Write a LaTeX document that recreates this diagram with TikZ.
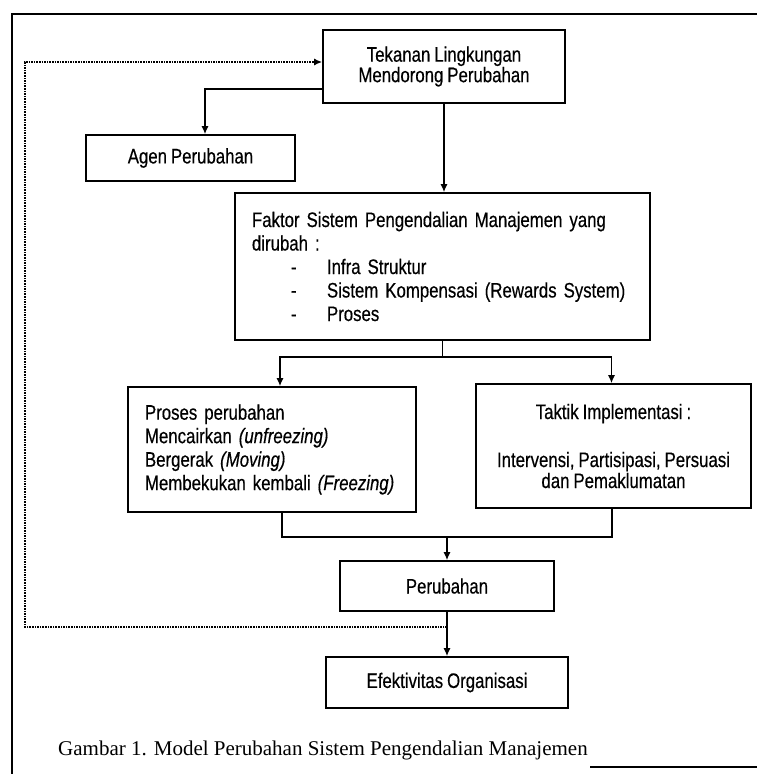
\documentclass[tikz,border=0pt]{standalone}
\usepackage{fontspec}
\setmainfont{Liberation Serif}
\newfontfamily\boxfont[FakeStretch=0.8, WordSpace=0.85, FakeBold=0.4]{Liberation Sans}
\usetikzlibrary{arrows.meta}
\tikzset{>={Latex[width=7pt,length=8pt]}}
\tikzset{
  box/.style={draw, line width=1.6pt, inner sep=0pt,
    font=\boxfont\fontsize{21}{23.5}\selectfont},
  arr/.style={->, line width=1.4pt},
  link/.style={line width=1.4pt},
  feedback/.style={->, line width=1.6pt, densely dotted},
}

\begin{document}
\begin{tikzpicture}[x=1pt, y=-1pt]

  \useasboundingbox (0,0) rectangle (757,774);

  \newcommand\Itm[1]{\makebox[75pt][l]{\hspace{39pt}-}#1}

  % frame
  \draw[line width=1.8pt] (12,774) -- (12,14) -- (757,14);
  \draw[line width=1.8pt] (590,767) -- (757,767);

  \node[box, minimum width=242pt, minimum height=73pt, align=center,
    font=\boxfont\fontsize{21}{20.5}\selectfont] (tekanan) at (444,66.5)
    {Tekanan Lingkungan\\Mendorong Perubahan};
  \node[box, minimum width=209pt, minimum height=46pt] (agen) at (190.5,158)
    {Agen Perubahan};
  \node[box, text width=381pt, inner xsep=17pt, minimum height=147pt, align=left]
    (faktor) at (442.5,266.5)
    {Faktor Sistem Pengendalian Manajemen yang\\
     dirubah :\\
     \Itm{Infra Struktur}\\
     \Itm{Sistem Kompensasi (Rewards System)}\\
     \Itm{Proses}};
  \node[box, text width=254pt, inner xsep=17pt, minimum height=125pt, align=left]
    (proses) at (272,449.5)
    {Proses perubahan\\
     Mencairkan \textit{(unfreezing)}\\
     Bergerak \textit{(Moving)}\\
     Membekukan kembali \textit{(Freezing)}};
  \node[box, minimum width=275pt, minimum height=124pt, align=center,
    font=\boxfont\fontsize{21}{21}\selectfont] (taktik) at (613.5,446)
    {Taktik Implementasi :\\[27pt]
     Intervensi, Partisipasi, Persuasi\\
     dan Pemaklumatan};
  \node[box, minimum width=214pt, minimum height=50pt] (perubahan) at (447,586)
    {Perubahan};
  \node[box, minimum width=242pt, minimum height=51pt] (efektivitas) at (447,682.5)
    {Efektivitas Organisasi};

  \node[anchor=west, inner sep=0pt, font=\fontsize{21}{25}\selectfont] (caption)
    at (58,750) {Gambar 1. Model Perubahan Sistem Pengendalian Manajemen};

  \coordinate (split) at (445,357);
  \coordinate (merge) at (447,537);
  \coordinate (back) at (447,627);
  \coordinate (loop) at (25,627);

  %% feedback loop
  \draw[feedback] (back) -- (loop) |- ([yshift=4.5pt]tekanan.west);

  \draw[arr] ([yshift=-22.5pt]tekanan.west) -| ([xshift=14.5pt]agen.north); % tekanan->agen
  \draw[arr] (tekanan.south) -- (tekanan.south |- faktor.north); % tekanan->faktor

  \draw[link] (faktor.south) -- (faktor.south |- split);
  \draw[arr] (faktor.south |- split) -| ([xshift=8pt]proses.north); % faktor->proses
  \draw[arr] (faktor.south |- split) -| ([xshift=-2pt]taktik.north); % faktor->taktik

  \draw[link] ([xshift=10pt]proses.south) |- (merge);
  \draw[link] ([xshift=-1.5pt]taktik.south) |- (merge);
  \draw[arr] (merge) -- (perubahan.north); % ->perubahan

  \draw[arr] (perubahan.south) -- (efektivitas.north); % perubahan->efektivitas

\end{tikzpicture}
\end{document}
